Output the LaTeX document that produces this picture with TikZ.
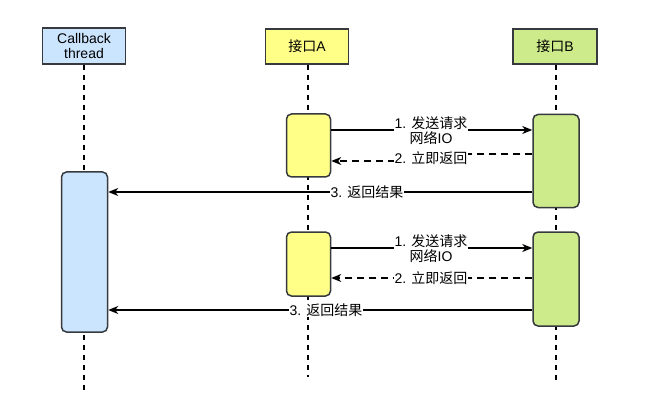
\documentclass[tikz,border=0pt]{standalone}
\usepackage{fontspec}
\setmainfont{Liberation Sans}
\newfontfamily\cjk{Noto Sans CJK SC}
\usetikzlibrary{arrows.meta}
\definecolor{bordc}{HTML}{36393D}
\definecolor{cbfill}{HTML}{CCE5FF}
\definecolor{afill}{HTML}{FFFF88}
\definecolor{bfill}{HTML}{CDEB8B}
\begin{document}
\begin{tikzpicture}[x=1pt,y=-1pt,
  hdr/.style={draw=bordc,line width=1.5pt,minimum height=35pt,inner sep=0pt,align=center,font=\fontsize{14}{15.5}\selectfont},
  act/.style={draw=bordc,line width=1.5pt,rounded corners=5pt,inner sep=0pt},
  life/.style={line width=1.5pt,dash pattern=on 5pt off 5pt},
  msg/.style={line width=1.5pt,-{Stealth[length=10pt,width=8pt,inset=3pt]}},
  dmsg/.style={msg,dash pattern=on 7pt off 5pt},
  lbl/.style={fill=white,inner sep=1pt,align=center,font=\fontsize{14}{15}\selectfont}]
\useasboundingbox (0,0) rectangle (650,406);
% headers
\node[hdr,fill=cbfill,minimum width=83pt,minimum height=36pt] (cbh) at (84,46) {Callback\\[-1pt]thread};
\node[hdr,fill=afill,minimum width=83pt] (ah) at (307,46.5) {{\cjk 接口}A};
\node[hdr,fill=bfill,minimum width=84pt] (bh) at (555,46.5) {{\cjk 接口}B};
% lifeline ends
\coordinate (cbe) at (84,390);
\coordinate (ae) at (308,377);
\coordinate (be) at (556,384);
\draw[life] (cbh.south) -- (cbh.south |- cbe);
\draw[life] (ah.south) ++(1,0) -- (ae);
\draw[life] (bh.south) ++(1,0) -- (be);
% activations
\node[act,fill=cbfill,minimum width=46pt,minimum height=160pt] (cba) at (84.5,252) {};
\node[act,fill=afill,minimum width=44pt,minimum height=63pt] (a1) at (308.5,145.5) {};
\node[act,fill=bfill,minimum width=46pt,minimum height=93pt] (b1) at (556,161) {};
\node[act,fill=afill,minimum width=44pt,minimum height=64pt] (a2) at (308.5,264) {};
\node[act,fill=bfill,minimum width=46pt,minimum height=94pt] (b2) at (556,279) {};
% block 1
\draw[msg] (a1.east |- 0,130) -- (b1.west |- 0,130);
\node[lbl] (l1) at (431,131) {1. {\cjk 发送请求}\\{\cjk 网络}IO};
\draw[dmsg] (b1.west |- 0,154) -- (430,154) -- (430,161) -- (a1.east |- 0,161);
\node[lbl] (l2) at (431,158) {2. {\cjk 立即返回}};
\draw[msg] (b1.west |- 0,192) -- (cba.east |- 0,192);
\node[lbl] (l3) at (367,192) {3. {\cjk 返回结果}};
% block 2
\draw[msg] (a2.east |- 0,248) -- (b2.west |- 0,248);
\node[lbl] (l4) at (431,249) {1. {\cjk 发送请求}\\{\cjk 网络}IO};
\draw[dmsg] (b2.west |- 0,278) -- (a2.east |- 0,278);
\node[lbl] (l5) at (431,278) {2. {\cjk 立即返回}};
\draw[msg] (b2.west |- 0,310) -- (cba.east |- 0,310);
\node[lbl] (l6) at (326,310) {3. {\cjk 返回结果}};
\end{tikzpicture}
\end{document}
